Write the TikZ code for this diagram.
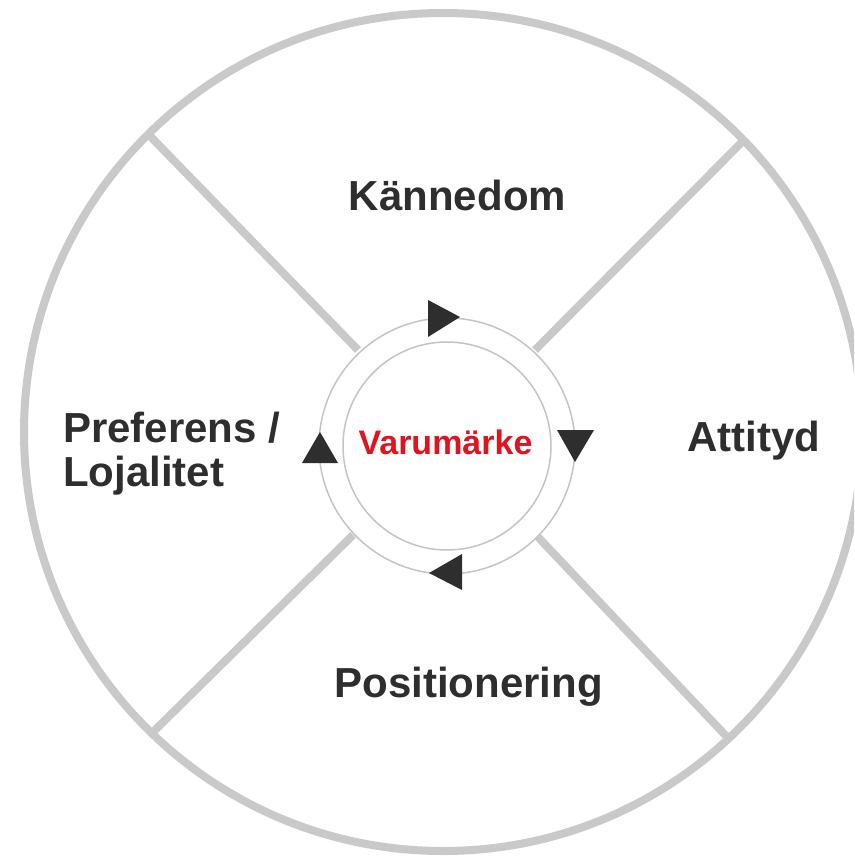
\documentclass[tikz,border=0pt]{standalone}
\usepackage{fontspec}
\setmainfont{Liberation Sans}
\definecolor{ringgray}{HTML}{C9C9C9}
\definecolor{thingray}{HTML}{C4C4C4}
\definecolor{txtdark}{HTML}{2E2E2E}
\definecolor{brandred}{HTML}{E0141E}
\tikzset{
  spoke/.style={draw=ringgray, line width=8pt},
  outerring/.style={draw=ringgray, line width=8pt},
  thinring/.style={draw=thingray, line width=1.5pt},
  tri/.style={fill=txtdark, draw=none},
  label/.style={inner sep=0pt, text=txtdark, font=\bfseries\fontsize{42}{44}\selectfont},
  brand/.style={inner sep=0pt, text=brandred, font=\bfseries\fontsize{34}{36}\selectfont}
}
\begin{document}
\begin{tikzpicture}[x=1pt,y=-1pt]
\useasboundingbox (0,0) rectangle (854,861);
\clip (0,0) rectangle (854,861);
\fill[white] (0,0) rectangle (854,861);
% centres
\coordinate (C) at (443,432);
\coordinate (c) at (447,446);
% spoke ends
\coordinate (ulin) at (358,350);
\coordinate (ulout) at (150,136);
\coordinate (urin) at (535,350);
\coordinate (urout) at (742,142);
\coordinate (llin) at (353,535);
\coordinate (llout) at (151,734);
\coordinate (lrin) at (538,537);
\coordinate (lrout) at (728,738);
\draw[spoke] (ulin) -- (ulout);
\draw[spoke] (urin) -- (urout);
\draw[spoke] (llin) -- (llout);
\draw[spoke] (lrin) -- (lrout);
% outer circle
\draw[outerring] (C) circle[radius=419];
% inner rings
\draw[thinring] (c) circle[radius=128];
\draw[thinring] (c) circle[radius=104];
% arrowheads
\fill[tri] (428,300) -- (428,337) -- (460,317) -- cycle;
\fill[tri] (557,430) -- (594,430) -- (575,462) -- cycle;
\fill[tri] (462,554) -- (462,590) -- (429,573) -- cycle;
\fill[tri] (320,432) -- (302,463) -- (338,463) -- cycle;
% labels
\node[label, anchor=base] (kann) at (457.5,210) {Kännedom};
\node[label, anchor=base west] (att) at (687,451) {Attityd};
\node[label, anchor=base] (pos) at (468.5,697) {Positionering};
\node[label, anchor=base west] (pref) at (63,442) {Preferens /};
\node[label, anchor=base west] (loj) at (63,486) {Lojalitet};
\node[brand, anchor=base] (brand) at (445.5,454) {Varumärke};
\end{tikzpicture}
\end{document}
